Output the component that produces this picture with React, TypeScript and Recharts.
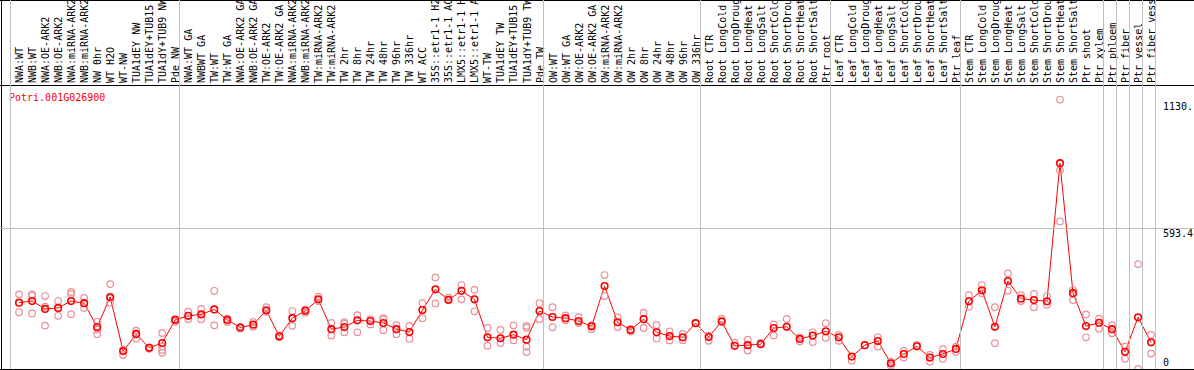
import React from "react";
import {
  ComposedChart,
  Line,
  Scatter,
  XAxis,
  YAxis,
  Customized,
} from "recharts";

const LABELS = [
  "NWA:WT", "NWB:WT", "NWA:OE-ARK2", "NWB:OE-ARK2", "NWA:miRNA-ARK2", "NWB:miRNA-ARK2",
  "NW 0hr", "WT H2O", "WT-NW", "TUA1dEY NW", "TUA1dEY+TUB15 NW", "TUA1dY+TUB9 NW", "Pde NW",
  "NWA:WT GA", "NWBWT GA", "TW:WT", "TW:WT GA", "NWA:OE-ARK2 GA", "NWB:OE-ARK2 GA",
  "TW:OE-ARK2", "TW:OE-ARK2 GA", "NWA:miRNA-ARK2", "NWB:miRNA-ARK2", "TW:miRNA-ARK2",
  "TW:miRNA-ARK2", "TW 2hr", "TW 8hr", "TW 24hr", "TW 48hr", "TW 96hr", "TW 336hr", "WT ACC",
  "35S::etr1-1 H2O", "35S::etr1-1 ACC", "LMX5::etr1-1 H2O", "LMX5::etr1-1 ACC", "WT-TW",
  "TUA1dEY TW", "TUA1dEY+TUB15 TW", "TUA1dY+TUB9 TW", "Pde TW",
  "OW:WT", "OW:WT GA", "OW:OE-ARK2", "OW:OE-ARK2 GA", "OW:miRNA-ARK2", "OW:miRNA-ARK2",
  "OW 2hr", "OW 8hr", "OW 24hr", "OW 48hr", "OW 96hr", "OW 336hr",
  "Root CTR", "Root LongCold", "Root LongDrought", "Root LongHeat", "Root LongSalt",
  "Root ShortCold", "Root ShortDrought", "Root ShortHeat", "Root ShortSalt", "Ptr root",
  "Leaf CTR", "Leaf LongCold", "Leaf LongDrought", "Leaf LongHeat", "Leaf LongSalt",
  "Leaf ShortCold", "Leaf ShortDrought", "Leaf ShortHeat", "Leaf ShortSalt", "Ptr leaf",
  "Stem CTR", "Stem LongCold", "Stem LongDrought", "Stem LongHeat", "Stem LongSalt",
  "Stem ShortCold", "Stem ShortDrought", "Stem ShortHeat", "Stem ShortSalt", "Ptr shoot",
  "Ptr xylem", "Ptr phloem", "Ptr fiber", "Ptr vessel", "Ptr fiber vessel",
];

// category index where each grey separator sits
const GROUP_BREAKS = [0, 13, 41, 53, 63, 73, 84, 85, 86, 87, 88];

const MEANS = [
  278, 285, 252, 256, 285, 276, 176, 302, 75, 146, 89, 109, 206,
  223, 229, 250, 206, 174, 186, 246, 137, 213, 244, 292, 167, 176, 204, 201, 193, 167,
  155, 247, 334, 290, 328, 292, 133, 129, 144, 123, 243,
  218, 213, 201, 179, 348, 196, 164, 209, 154, 138, 133, 192,
  134, 199, 97, 100, 104, 172, 177, 126, 140, 158,
  133, 52, 100, 117, 24, 63, 95, 48, 63, 84,
  284, 330, 177, 369, 295, 289, 284, 863, 318, 180, 194,
  167, 72, 217, 112,
];

const REPLICATES = [
  [313, 238], [313, 307, 233], [306, 261, 182], [285, 255, 223], [323, 315, 230], [298, 256],
  [198, 166, 146], [356, 278, 296], [80, 59], [161, 127, 150], [91, 85], [151, 80, 68, 95], [209, 198],
  [240, 209], [252, 209], [328, 183], [211, 197], [177, 170], [197, 177], [259, 240], [141, 133],
  [243, 181], [250, 236], [303, 285], [193, 141], [196, 190, 154], [226, 154], [209, 187],
  [213, 209, 163], [184, 146], [181, 127], [276, 213], [384, 275], [299, 288], [352, 292],
  [332, 242], [172, 98], [164, 109], [183, 121], [181, 173, 94, 71], [276, 209],
  [259, 175], [225, 204], [217, 193], [167, 184], [394, 306], [216, 176], [167, 157],
  [236, 172], [184, 128], [158, 120], [147, 121], [192],
  [140, 118], [211, 203], [110], [123, 78], [109], [187, 141], [210], [133, 116], [154, 113], [192, 131],
  [143, 118], [35], [], [133, 94], [31, 14], [77, 48], [101], [59, 31], [83, 43], [94, 72],
  [310, 261], [352, 318], [259, 108], [401, 329], [310, 285], [315, 259], [306, 269],
  [1130, 834, 619], [331, 289], [229, 133], [211, 169],
  [184, 150], [94, 43], [440, 0], [143, 65],
];

const Y_TICKS = [0, 593.4, 1130.3];
const Y_TICK_TEXT = ["0", "593.4", "1130."];
const Y_MAX = 1186.8;

const X_OFFSET = 0.62;
const meanData = MEANS.map((v, i) => ({ x: i + X_OFFSET, v }));
const repData = REPLICATES.flatMap((arr, i) => arr.map((v) => ({ x: i + X_OFFSET, v })));
// header ticks: the group separators (whole numbers) plus one per category label
const headerTicks = [...GROUP_BREAKS, ...LABELS.map((_, i) => i + X_OFFSET)].sort((a, b) => a - b);

const W = 1194;
const H = 370;
const MONO = "'DejaVu Sans Mono', monospace";
const RED = "#ff0000";
const PINK = "#ea9198";
const GREY = "#c0c0c0";

function HeaderTick(props: any) {
  const { x, payload } = props;
  const value = payload.value as number;
  if (Number.isInteger(value)) {
    const lx = Math.round(x) - 0.5;
    return <line x1={lx} x2={lx} y1={0} y2={369} stroke={GREY} strokeWidth={1} />;
  }
  return (
    <text
      transform={`translate(${x + 4},83) rotate(-90)`}
      fontFamily={MONO}
      fontSize={10}
      fill="#000"
    >
      {LABELS[Math.floor(value)]}
    </text>
  );
}

function ValueTick(props: any) {
  const { x, y, index } = props;
  const dy = index === 0 ? -3 : index === 1 ? 9 : 11;
  return (
    <g>
      {index === 1 && (
        <line x1={0} x2={W} y1={Math.round(y) + 0.5} y2={Math.round(y) + 0.5} stroke={GREY} />
      )}
      <text x={x} y={y + dy} fontFamily={MONO} fontSize={10} fill="#000">
        {Y_TICK_TEXT[index]}
      </text>
    </g>
  );
}

function Frame() {
  return (
    <g>
      <line x1={0} x2={W} y1={0.5} y2={0.5} stroke="#000" />
      <line x1={0} x2={W} y1={85.5} y2={85.5} stroke="#000" />
      <line x1={0} x2={W} y1={369.5} y2={369.5} stroke="#000" />
      <line x1={1.5} x2={1.5} y1={0} y2={H} stroke="#000" />
      <text x={9} y={101} fontFamily={MONO} fontSize={10} fill={RED}>
        Potri.001G026900
      </text>
    </g>
  );
}

export default function App() {
  return (
    <div style={{ position: "absolute", left: 0, top: 0, width: W, height: H, background: "#fff" }}>
      <ComposedChart
        width={W}
        height={H}
        data={meanData}
        margin={{ top: 1, right: 0, bottom: 1, left: 11 }}
      >
        <XAxis
          dataKey="x"
          type="number"
          orientation="top"
          domain={[0, LABELS.length]}
          allowDataOverflow
          ticks={headerTicks}
          interval={0}
          tick={<HeaderTick />}
          height={85}
          axisLine={false}
          tickLine={false}
        />
        <YAxis
          orientation="right"
          dataKey="v"
          type="number"
          domain={[0, Y_MAX]}
          allowDataOverflow
          ticks={Y_TICKS}
          interval={0}
          width={38}
          tick={<ValueTick />}
          tickSize={0}
          tickMargin={7}
          axisLine={false}
          tickLine={false}
        />
        <Scatter
          data={repData}
          dataKey="v"
          isAnimationActive={false}
          shape={(p: any) => (
            <circle cx={p.cx} cy={p.cy} r={3.3} fill="none" stroke={PINK} strokeWidth={1.2} />
          )}
        />
        <Line
          dataKey="v"
          stroke={RED}
          strokeWidth={1}
          isAnimationActive={false}
          activeDot={false}
          dot={(p: any) => (
            <circle key={p.index} cx={p.cx} cy={p.cy} r={3.3} fill="none" stroke={RED} strokeWidth={1.6} />
          )}
        />
        <Customized component={Frame} />
      </ComposedChart>
    </div>
  );
}
